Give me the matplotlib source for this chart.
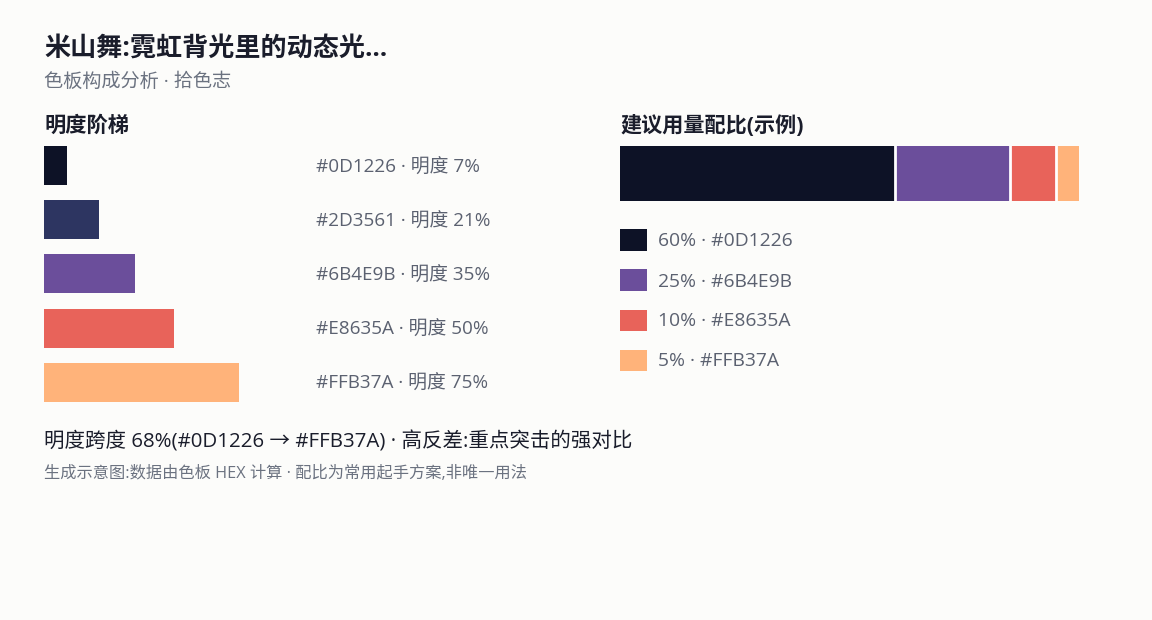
import matplotlib
matplotlib.use("Agg")
import matplotlib.pyplot as plt
from matplotlib.patches import Rectangle
import matplotlib.transforms as mtransforms
import numpy as np

plt.rcParams['font.family'] = ['Open Sans', 'Noto Sans CJK SC', 'DejaVu Sans']

# ---- data ----
title = "米山舞:霓虹背光里的动态光…"
subtitle = "色板构成分析 · 拾色志"
ladder_hex = ["#0D1226", "#2D3561", "#6B4E9B", "#E8635A", "#FFB37A"]
ladder_lightness = [7, 21, 35, 50, 75]
ratio_hex = ["#0D1226", "#6B4E9B", "#E8635A", "#FFB37A"]
ratio_pct = [60, 25, 10, 5]
summary = "明度跨度 68%(#0D1226 → #FFB37A) · 高反差:重点突击的强对比"
footnote = "生成示意图:数据由色板 HEX 计算 · 配比为常用起手方案,非唯一用法"

W, H = 1152, 620
BG = "#FCFCFA"
DARK = "#1A1D2B"
GRAY = "#5B6170"

fig = plt.figure(figsize=(W / 100, H / 100), dpi=100, facecolor=BG)

def fx(px):
    return px / W

def fy(py):
    return 1 - py / H

# titles
fig.text(fx(44), fy(48.5), title, fontsize=18.8, fontweight="bold", color=DARK, va="center", ha="left")
fig.text(fx(44), fy(82), subtitle, fontsize=13.8, color="#6B7280", va="center", ha="left")
fig.text(fx(44), fy(126), "明度阶梯", fontsize=15.3, fontweight="bold", color=DARK, va="center", ha="left")
fig.text(fx(620), fy(126), "建议用量配比(示例)", fontsize=15.2, fontweight="bold", color=DARK, va="center", ha="left")

# ---- left: lightness ladder ----
ax = fig.add_axes([fx(44), fy(409), fx(260), (409 - 139) / H])
ax.set_facecolor("none")
n = len(ladder_hex)
ypos = np.arange(n)
widths = np.maximum(ladder_lightness, 9)  # minimum visible width
ax.barh(ypos, widths, height=39 / 54, color=ladder_hex, left=0)
ax.set_xlim(0, 100)
ax.set_ylim(n - 0.5, -0.5)
ax.axis("off")
trans = mtransforms.blended_transform_factory(fig.transFigure, ax.transData) + \
    mtransforms.ScaledTranslation(0, -1.5 / 100, fig.dpi_scale_trans)
for i, (h, v) in enumerate(zip(ladder_hex, ladder_lightness)):
    ax.text(fx(316), i, f"{h} · 明度 {v}%", transform=trans, fontsize=13.6,
            color=GRAY, va="center", ha="left")

# ---- right: stacked ratio bar ----
ax2 = fig.add_axes([fx(620), fy(201), fx(459), (201 - 146) / H])
ax2.set_facecolor("none")
left = 0
for h, p in zip(ratio_hex, ratio_pct):
    ax2.barh(0, p, left=left, height=1.0, color=h, edgecolor="none")
    left += p
for b in np.cumsum(ratio_pct)[:-1]:
    ax2.axvline(b, color="white", linewidth=2)
ax2.set_xlim(0, sum(ratio_pct))
ax2.set_ylim(-0.5, 0.5)
ax2.axis("off")

# legend
for i, (h, p) in enumerate(zip(ratio_hex, ratio_pct)):
    cy = 240 + 40 * i
    fig.patches.append(Rectangle((fx(620), fy(cy + 10.5)), fx(27), 21 / H,
                                 transform=fig.transFigure, facecolor=h, edgecolor="none"))
    fig.text(fx(658), fy(cy + 1.5), f"{p}% · {h}", fontsize=13.9, color=GRAY, va="center", ha="left")

# bottom notes
fig.text(fx(44), fy(442), summary, fontsize=14.75, color=DARK, va="center", ha="left")
fig.text(fx(44), fy(474), footnote, fontsize=11.7, color="#6B7280", va="center", ha="left")

fig.savefig("out.png", dpi=100, facecolor=BG)
